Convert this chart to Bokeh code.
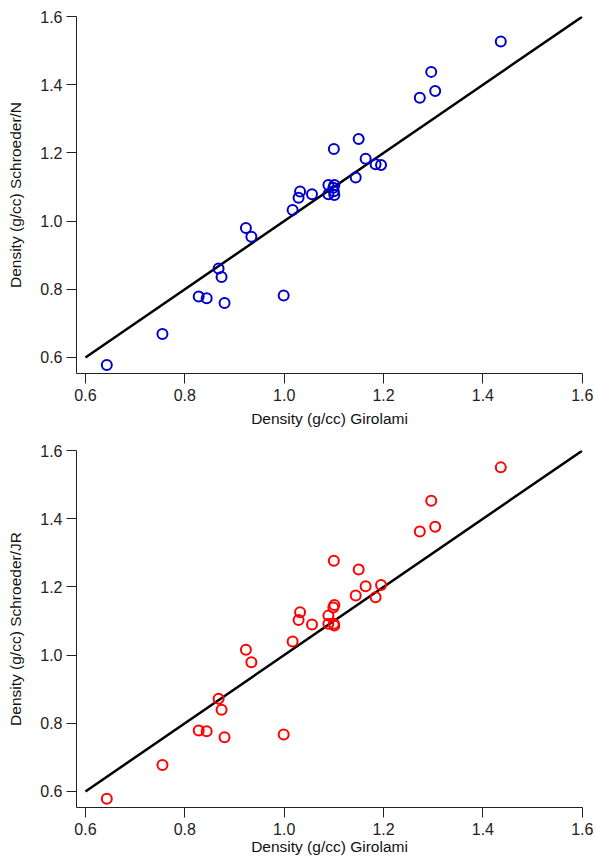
from bokeh.plotting import figure
from bokeh.layouts import column
from bokeh.models import Range1d, FixedTicker, PrintfTickFormatter
from bokeh.embed import file_html
from bokeh.resources import INLINE

girolami = [0.643, 0.755, 0.828, 0.844, 0.880, 0.868, 0.874, 0.923, 0.934, 0.999,
            1.017, 1.029, 1.032, 1.056, 1.089, 1.089, 1.101, 1.099, 1.101, 1.100,
            1.100, 1.144, 1.150, 1.164, 1.184, 1.195, 1.273, 1.296, 1.304, 1.436]
schroeder_n = [0.578, 0.669, 0.779, 0.774, 0.760, 0.861, 0.836, 0.980, 0.954, 0.782,
               1.033, 1.069, 1.087, 1.079, 1.106, 1.079, 1.106, 1.098, 1.077, 1.088,
               1.212, 1.128, 1.241, 1.183, 1.167, 1.165, 1.362, 1.438, 1.382, 1.527]
schroeder_jr = [0.579, 0.678, 0.779, 0.777, 0.759, 0.872, 0.840, 1.016, 0.979, 0.767,
                1.040, 1.103, 1.126, 1.090, 1.116, 1.092, 1.147, 1.140, 1.087, 1.092,
                1.277, 1.175, 1.251, 1.202, 1.170, 1.206, 1.363, 1.453, 1.377, 1.551]
line_x = [0.6, 1.6]
line_y = [0.6, 1.6]
ticks = [0.6, 0.8, 1.0, 1.2, 1.4, 1.6]
xlabel = "Density (g/cc) Girolami"
ylabels = ["Density (g/cc) Schroeder/N", "Density (g/cc) Schroeder/JR"]
colors = ["#0000CC", "#FF0000"]

FONT = "Liberation Sans"


def make(ys, ylabel, color, h, top, bottom, lab_standoff):
    p = figure(width=595, height=h, output_backend="svg", toolbar_location=None,
               x_range=Range1d(0.582, 1.6005), y_range=Range1d(0.553, 1.6005),
               min_border_left=76, min_border_right=13,
               min_border_top=top, min_border_bottom=bottom)
    p.outline_line_color = None
    p.grid.visible = False
    p.background_fill_color = "white"
    p.border_fill_color = "white"
    for ax in (p.xaxis[0], p.yaxis[0]):
        ax.ticker = FixedTicker(ticks=ticks)
        ax.formatter = PrintfTickFormatter(format="%.1f")
        ax.minor_tick_line_color = None
        ax.major_tick_in = 0
        ax.major_tick_out = 10
        ax.axis_line_color = "#222222"
        ax.major_tick_line_color = "#222222"
        ax.axis_line_width = 1
        ax.major_label_text_font = FONT
        ax.major_label_text_font_size = "16px"
        ax.major_label_text_color = "#222222"
        ax.axis_label_text_font = FONT
        ax.axis_label_text_font_size = "15.5px"
        ax.axis_label_text_font_style = "normal"
        ax.axis_label_text_color = "#111111"
    p.xaxis.axis_label = xlabel
    p.yaxis.axis_label = ylabel
    p.xaxis.major_label_standoff = 5
    p.xaxis.axis_label_standoff = lab_standoff
    p.yaxis.major_label_standoff = 4
    p.yaxis.axis_label_standoff = 13
    p.line(line_x, line_y, line_color="black", line_width=2.5)
    p.scatter(girolami, ys, marker="circle", size=10, fill_color=None,
              line_color=color, line_width=2)
    return p


p1 = make(schroeder_n, ylabels[0], colors[0], 430, 16, 57, 6)
p2 = make(schroeder_jr, ylabels[1], colors[1], 428, 20, 51, 0)
p = column(p1, p2)

open("out.html", "w").write(file_html(p, INLINE))
